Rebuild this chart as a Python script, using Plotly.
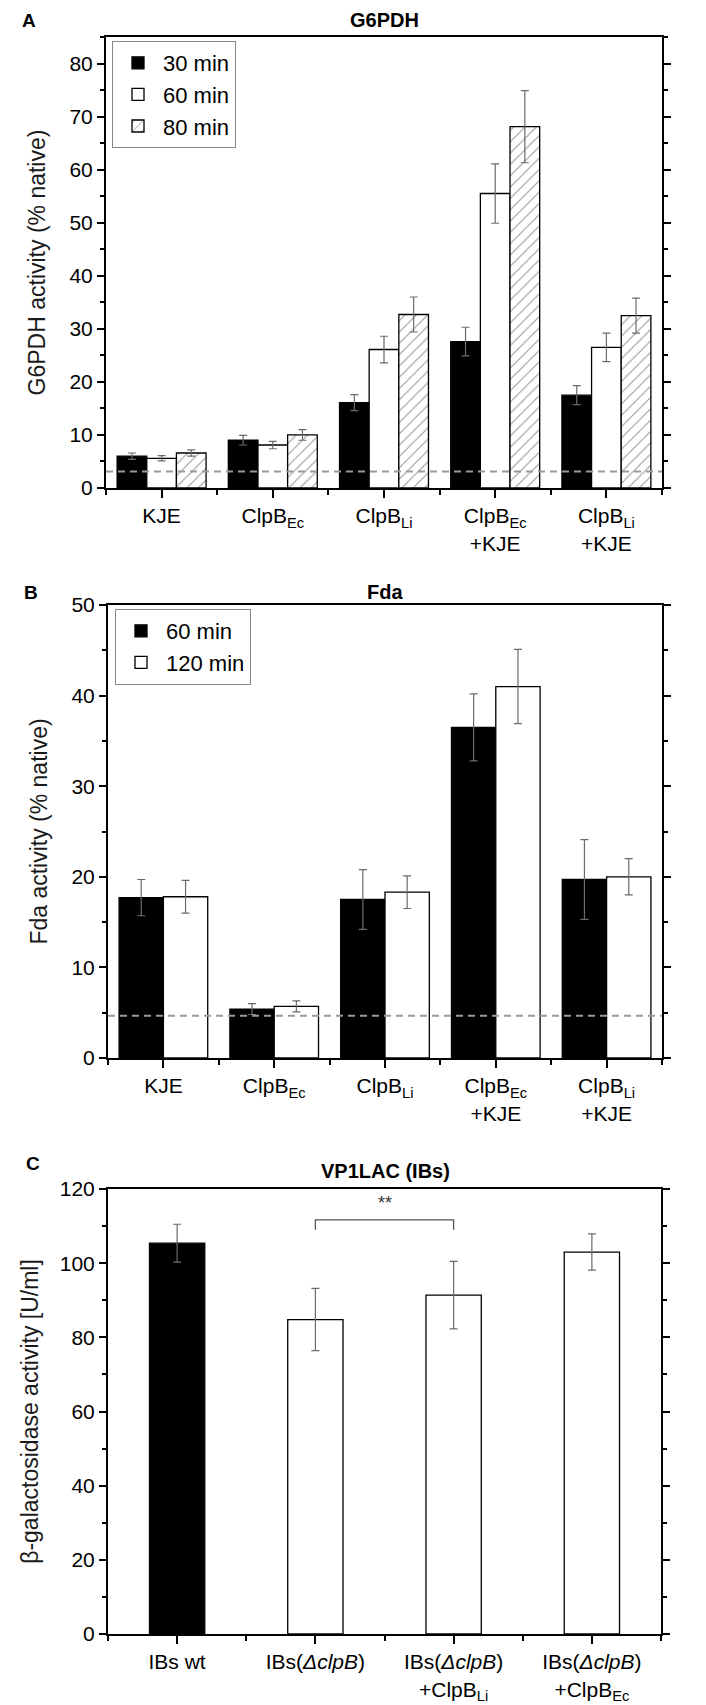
import plotly.graph_objects as go

W, H = 706, 1705

# ---------------- Panel A: G6PDH ----------------
catA = ["KJE", "ClpB<sub>Ec</sub>", "ClpB<sub>Li</sub>",
        "ClpB<sub>Ec</sub><br>+KJE", "ClpB<sub>Li</sub><br>+KJE"]
a30 = [6.0, 9.0, 16.1, 27.6, 17.5]
a30_err = [0.6, 0.9, 1.5, 2.7, 1.8]
a60 = [5.6, 8.1, 26.1, 55.5, 26.5]
a60_err = [0.5, 0.7, 2.5, 5.6, 2.7]
a80 = [6.6, 10.0, 32.7, 68.1, 32.5]
a80_err = [0.6, 1.0, 3.3, 6.8, 3.3]
baselineA = 3.1

# ---------------- Panel B: Fda ----------------
catB = ["KJE", "ClpB<sub>Ec</sub>", "ClpB<sub>Li</sub>",
        "ClpB<sub>Ec</sub><br>+KJE", "ClpB<sub>Li</sub><br>+KJE"]
b60 = [17.7, 5.4, 17.5, 36.5, 19.7]
b60_err = [2.0, 0.6, 3.3, 3.7, 4.4]
b120 = [17.8, 5.7, 18.3, 41.0, 20.0]
b120_err = [1.8, 0.6, 1.8, 4.1, 2.0]
baselineB = 4.65

# ---------------- Panel C: VP1LAC (IBs) ----------------
catC = ["IBs wt", "IBs(<i>ΔclpB</i>)",
        "IBs(<i>ΔclpB</i>)<br>+ClpB<sub>Li</sub>",
        "IBs(<i>ΔclpB</i>)<br>+ClpB<sub>Ec</sub>"]
c_vals = [105.4, 84.8, 91.4, 103.0]
c_err = [5.1, 8.4, 9.1, 4.9]
c_colors = ["black", "white", "white", "white"]
sig_pair = [1, 2]
sig_y = 111.7
sig_drop = 2.7
sig_label = "**"
sig_label_y = 116.3

FONT = "Liberation Sans, Arial, sans-serif"
ERR = dict(type="data", color="#6b6b6b", thickness=1.2, width=4)
LINE = dict(color="black", width=1.3)

fig = go.Figure()

xsA = list(range(len(catA)))
xsB = list(range(len(catB)))
xsC = list(range(len(catC)))

# Panel A bars
wA = 0.8 / 3
fig.add_trace(go.Bar(x=xsA, y=a30, name="30 min", width=wA, offset=-1.5 * wA,
                     marker=dict(color="black", line=LINE),
                     error_y=dict(array=a30_err, **ERR), xaxis="x", yaxis="y",
                     legend="legend"))
fig.add_trace(go.Bar(x=xsA, y=a60, name="60 min", width=wA, offset=-0.5 * wA,
                     marker=dict(color="white", line=LINE),
                     error_y=dict(array=a60_err, **ERR), xaxis="x", yaxis="y",
                     legend="legend"))
fig.add_trace(go.Bar(x=xsA, y=a80, name="80 min", width=wA, offset=0.5 * wA,
                     marker=dict(color="white", line=LINE,
                                 pattern=dict(shape="/", fgcolor="#222", bgcolor="white",
                                              size=8, solidity=0.12)),
                     error_y=dict(array=a80_err, **ERR), xaxis="x", yaxis="y",
                     legend="legend"))

# Panel B bars
wB = 0.4
fig.add_trace(go.Bar(x=xsB, y=b60, name="60 min", width=wB, offset=-wB,
                     marker=dict(color="black", line=LINE),
                     error_y=dict(array=b60_err, **ERR), xaxis="x2", yaxis="y2",
                     legend="legend2"))
fig.add_trace(go.Bar(x=xsB, y=b120, name="120 min", width=wB, offset=0,
                     marker=dict(color="white", line=LINE),
                     error_y=dict(array=b120_err, **ERR), xaxis="x2", yaxis="y2",
                     legend="legend2"))

# Panel C bars
wC = 0.4
fig.add_trace(go.Bar(x=xsC, y=c_vals, width=wC, offset=-wC / 2, showlegend=False,
                     marker=dict(color=c_colors, line=LINE),
                     error_y=dict(array=c_err, **ERR), xaxis="x3", yaxis="y3"))

# significance bracket
fig.add_trace(go.Scatter(x=[sig_pair[0], sig_pair[0], sig_pair[1], sig_pair[1]],
                         y=[sig_y - sig_drop, sig_y, sig_y, sig_y - sig_drop],
                         mode="lines", line=dict(color="#555", width=1.3),
                         showlegend=False, hoverinfo="skip", xaxis="x3", yaxis="y3"))


def px_x(p):
    return p / W


def px_y(p):
    return 1 - p / H


panels = [
    ("xaxis", "yaxis", "x", "y", catA, 98, 654, 29, 480, 85, 10, 5,
     "G6PDH activity (% native)", 17),
    ("xaxis2", "yaxis2", "x2", "y2", catB, 100, 654, 597, 1050, 50, 10, 5,
     "Fda activity (% native)", 17),
    ("xaxis3", "yaxis3", "x3", "y3", catC, 100, 653, 1181, 1626, 120, 20, 10,
     "β-galactosidase activity [U/ml]", 15),
]

layout_axes = {}
for (xk, yk, xr, yr, cats, l, r, t, b, ymax, dt, mdt, ytitle, so) in panels:
    n = len(cats)
    layout_axes[xk] = dict(
        domain=[px_x(l), px_x(r)], anchor=yr, range=[-0.5, n - 0.5],
        tickmode="array", tickvals=list(range(n)), ticktext=cats,
        ticks="outside", ticklen=8, tickwidth=1.5, tickcolor="black",
        minor=dict(ticks="outside", ticklen=5, tickwidth=1.5, tickcolor="black",
                   tick0=0.5, dtick=1, showgrid=False),
        showline=True, linecolor="black", linewidth=2, mirror=True,
        showgrid=False, zeroline=False, automargin=False,
        tickfont=dict(family=FONT, size=21, color="black"))
    layout_axes[yk] = dict(
        domain=[px_y(b), px_y(t)], anchor=xr, range=[0, ymax],
        tick0=0, dtick=dt, ticks="outside", ticklen=7, tickwidth=1.5, tickcolor="black",
        minor=dict(ticks="outside", ticklen=4, tickwidth=1.5, tickcolor="black",
                   dtick=mdt, showgrid=False),
        showline=True, linecolor="black", linewidth=2, mirror="ticks",
        showgrid=False, zeroline=False, automargin=False,
        tickfont=dict(family=FONT, size=21, color="black"),
        title=dict(text=ytitle, standoff=so, font=dict(family=FONT, size=23, color="#1a1a1a")))

shapes = [
    dict(type="line", xref="x domain", x0=0, x1=1, yref="y", y0=baselineA, y1=baselineA,
         line=dict(color="#9a9a9a", width=2, dash="7px,5px"), layer="above"),
    dict(type="line", xref="x2 domain", x0=0, x1=1, yref="y2", y0=baselineB, y1=baselineB,
         line=dict(color="#9a9a9a", width=2, dash="7px,5px"), layer="above"),
]


def note(text, x, y, size):
    return dict(text=text, x=px_x(x), y=px_y(y), xref="paper", yref="paper",
                xanchor="center", yanchor="middle", showarrow=False,
                font=dict(family=FONT, size=size, color="black"))


annotations = [
    note("<b>A</b>", 21, 12, 19),
    note("<b>B</b>", 23, 584, 19),
    note("<b>C</b>", 25, 1155, 19),
    note("<b>G6PDH</b>", 376, 12, 20),
    note("<b>Fda</b>", 377, 584, 20),
    note("<b>VP1LAC (IBs)</b>", 377, 1163, 20),
    dict(text=sig_label, x=sum(sig_pair) / 2, y=sig_label_y, xref="x3", yref="y3",
         xanchor="center", yanchor="middle",
         showarrow=False, font=dict(family=FONT, size=18, color="#333")),
]

fig.update_layout(
    width=W, height=H, autosize=False,
    margin=dict(l=0, r=0, t=0, b=0),
    paper_bgcolor="white", plot_bgcolor="white",
    barmode="overlay",
    font=dict(family=FONT, color="black"),
    shapes=shapes, annotations=annotations,
    legend=dict(x=px_x(104), y=px_y(33), xanchor="left", yanchor="top",
                bordercolor="#888", borderwidth=1, bgcolor="white",
                font=dict(family=FONT, size=22, color="black"),
                tracegroupgap=0, itemwidth=40),
    legend2=dict(x=px_x(107), y=px_y(601), xanchor="left", yanchor="top",
                 bordercolor="#888", borderwidth=1, bgcolor="white",
                 font=dict(family=FONT, size=22, color="black"),
                 tracegroupgap=0, itemwidth=40),
    **layout_axes,
)

fig.write_html("out.html")
